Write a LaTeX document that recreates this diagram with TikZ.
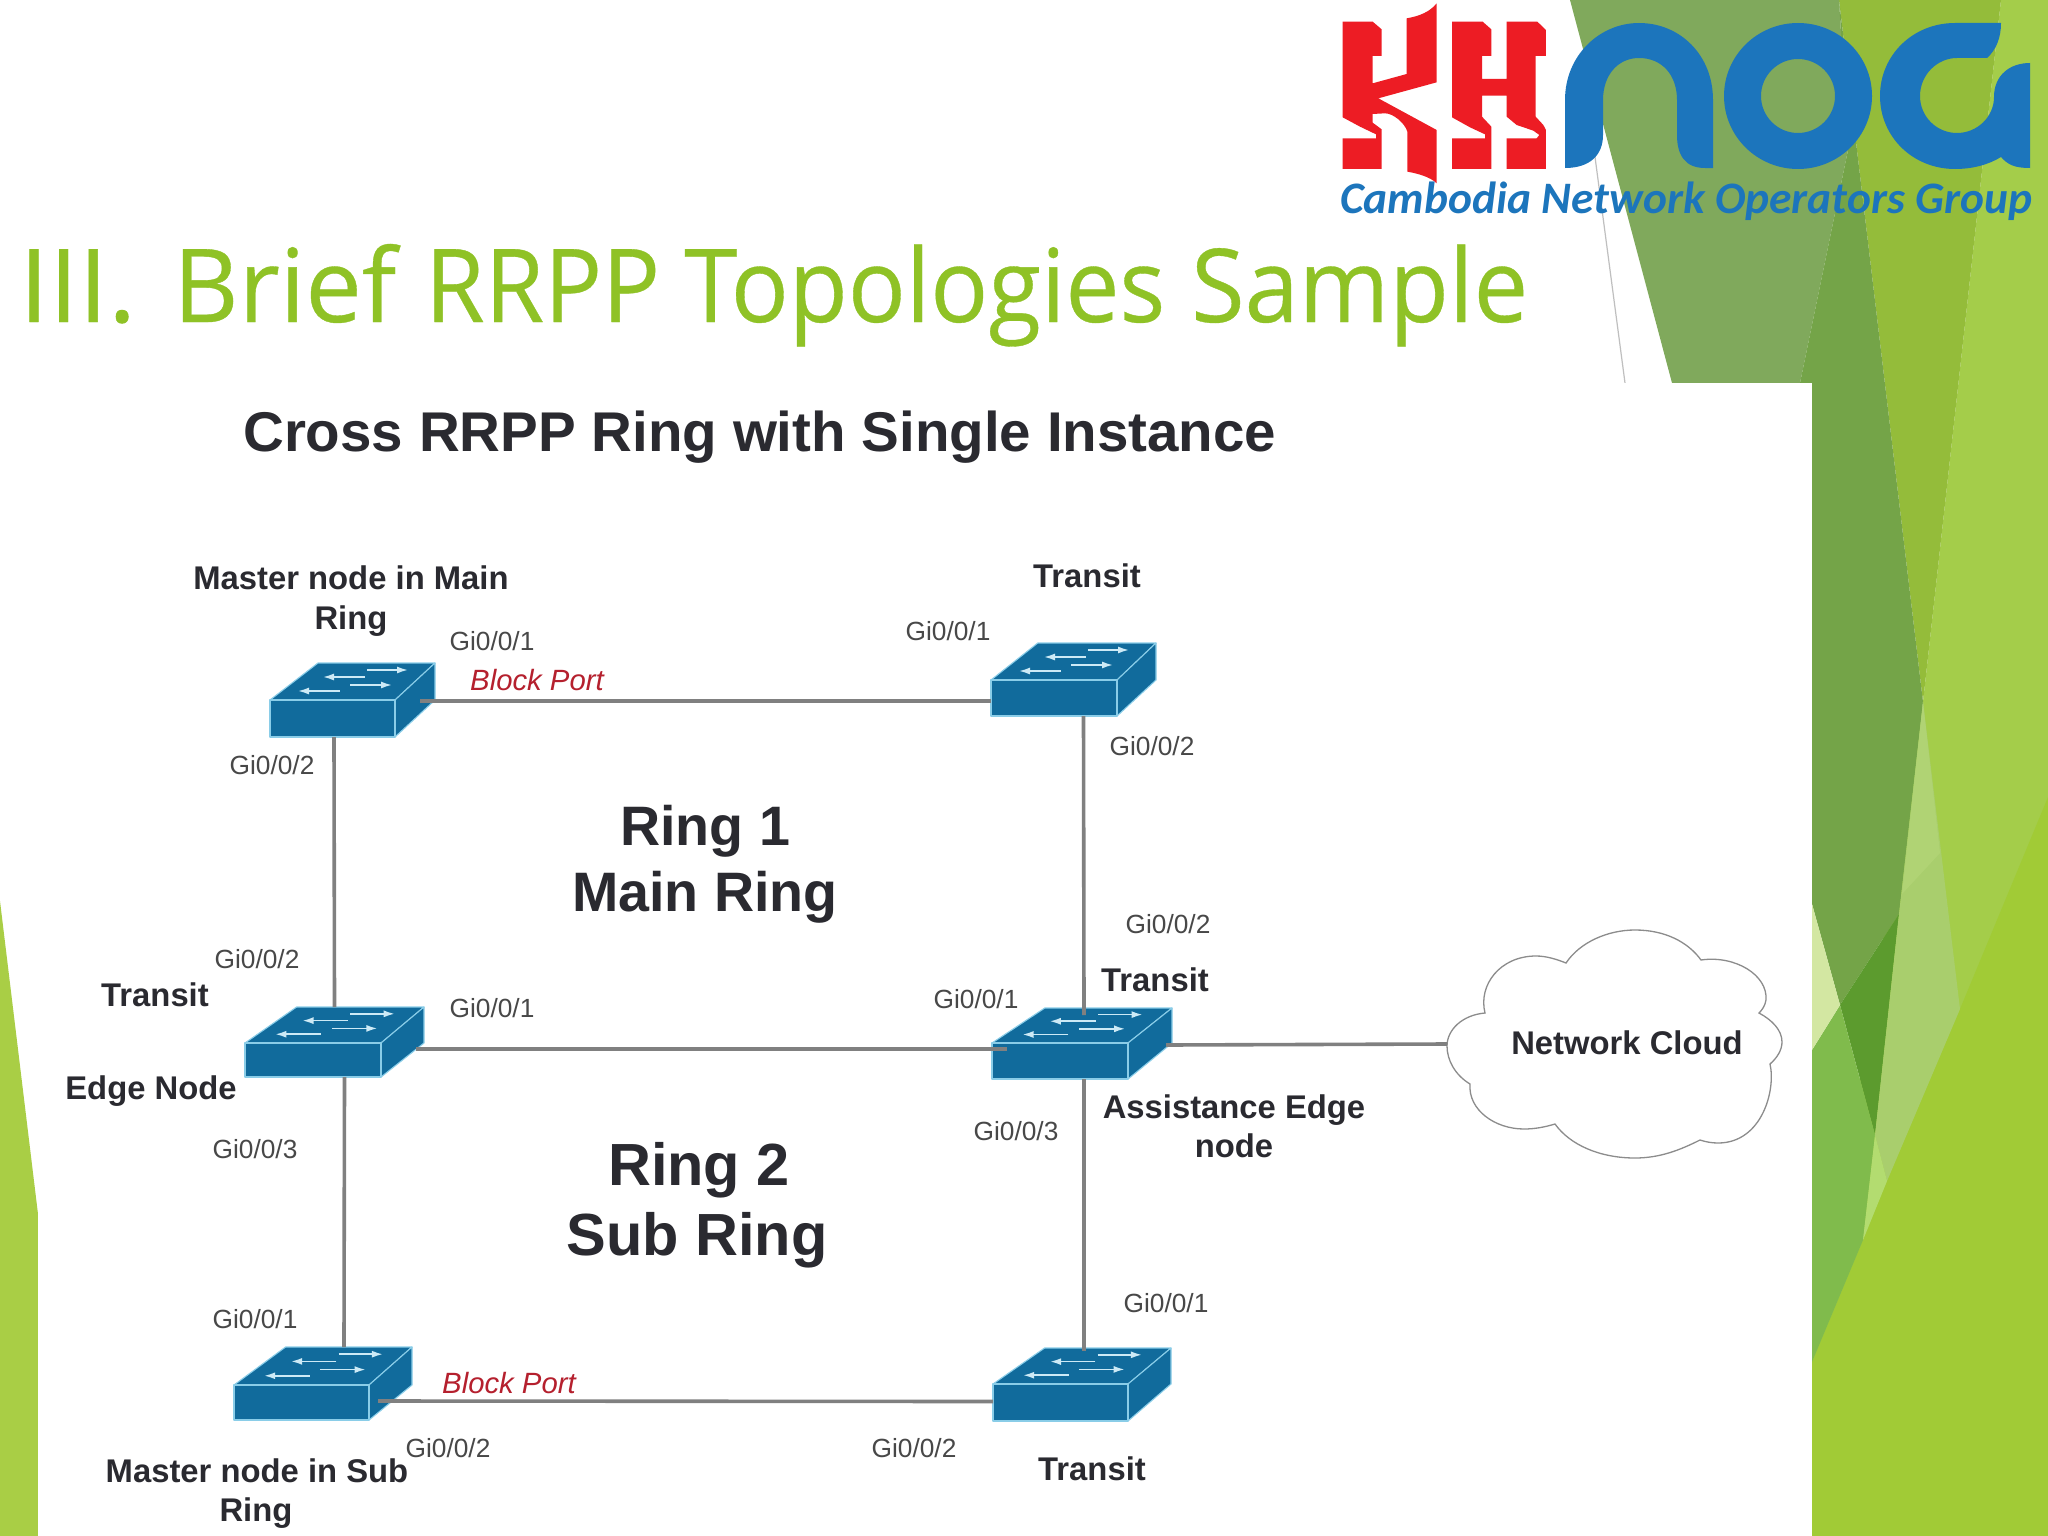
\documentclass[tikz,border=0pt]{standalone}
\usepackage{fontspec}
\usepackage{graphicx}
\setmainfont{Liberation Sans}
\newfontfamily\titlefont[FakeBold=0.35]{Open Sans}
\newfontfamily\logofont{Carlito}
\usetikzlibrary{arrows.meta}
\definecolor{cOlive}{HTML}{80A95C}
\definecolor{cDark}{HTML}{74A448}
\definecolor{cMid}{HTML}{94BC3A}
\definecolor{cLight}{HTML}{A4CD4A}
\definecolor{cLow}{HTML}{A1CB36}
\definecolor{cDeep}{HTML}{5C9B2E}
\definecolor{cSage}{HTML}{A9CE6D}
\definecolor{cSage2}{HTML}{B0D374}
\definecolor{cMedium}{HTML}{80BB4C}
\definecolor{cPale}{HTML}{D3E7A2}
\definecolor{cTip}{HTML}{B3DC70}
\definecolor{cLeft}{HTML}{A9CE45}
\definecolor{cTitle}{HTML}{8FC226}
\definecolor{cRed}{HTML}{ED1C24}
\definecolor{cBlue}{HTML}{1C75BC}
\definecolor{cSw}{HTML}{116B9C}
\definecolor{cSwEdge}{HTML}{8ACDE8}
\definecolor{cArrow}{HTML}{CDEAF6}
\definecolor{cInk}{HTML}{2A2A30}
\definecolor{cPort}{HTML}{484848}
\definecolor{cBlock}{HTML}{B5202E}
\definecolor{cLine}{HTML}{808080}
\tikzset{
  link/.style={draw=cLine,line width=3.6pt},
  swface/.style={fill=cSw,draw=cSwEdge,line width=1.1pt,line join=round},
  swarrow/.style={draw=cArrow,line width=1.6pt,-{Latex[length=11pt,width=7pt]}},
  swbox/.style={inner sep=0pt,outer sep=0pt,draw=none},
  portlab/.style={inner sep=0pt,text=cPort,font=\fontsize{26.3}{30}\selectfont,text height=19pt,text depth=0pt},
  namelab/.style={inner sep=0pt,text=cInk,font=\bfseries\fontsize{32.8}{38}\selectfont,text height=23pt,text depth=0pt},
  ringlab/.style={inner sep=0pt,text=cInk,font=\bfseries\fontsize{55.6}{60}\selectfont,text height=40pt,text depth=0pt},
  ringlabb/.style={inner sep=0pt,text=cInk,font=\bfseries\fontsize{59.5}{64}\selectfont,text height=43pt,text depth=0pt},
  redlab/.style={inner sep=0pt,text=cBlock,font=\itshape\fontsize{29.3}{34}\selectfont,text height=21pt,text depth=0pt},
}
\newcommand\swtch[7]{%
  \pgfmathsetmacro\swBL{#2+1.2*(#6-#4)}%
  \pgfmathsetmacro\swsx{(#6-#2)/165}%
  \pgfmathsetmacro\swsy{(#3-#7)/37}%
  \pgfmathsetmacro\swW{#6-#2}%
  \pgfmathsetmacro\swH{#5-#7}%
  \pgfmathsetmacro\swCx{(#6+#2)/2}%
  \pgfmathsetmacro\swCy{(#5+#7)/2}%
  \path[swface] (#2,#3) -- (\swBL,#7) -- (#6,#7) -- (#4,#3) -- cycle;
  \path[swface] (#4,#3) -- (#6,#7) -- (#6,#3) -- (#4,#5) -- cycle;
  \path[swface] (#2,#3) rectangle (#4,#5);
  \begin{scope}[shift={(#2,#3)},xscale=\swsx,yscale=\swsy]
    \draw[swarrow] (97,-30) -- (138,-30);
    \draw[swarrow] (95,-23) -- (53,-23);
    \draw[swarrow] (80,-15) -- (122,-15);
    \draw[swarrow] (70,-9) -- (28,-9);
  \end{scope}
  \node[swbox,minimum width=\swW pt,minimum height=\swH pt] (#1) at (\swCx,\swCy) {};
}
\newcommand\fitword[2]{\resizebox{#1pt}{\height}{#2}}
\begin{document}
\begin{tikzpicture}[x=1pt,y=-1pt]
\useasboundingbox (0,0) rectangle (2048,1536);
\fill[white] (0,0) rectangle (2048,1536);
% background facets
\fill[cLight] (1923,702) -- (2001,0) -- (2048,0) -- (2048,1536) -- (1812,1536) -- (1812,1362) -- cycle;
\fill[cLow] (2048,797) -- (1960,1009) -- (1887,1181) -- (1863,1240) -- (1812,1362) -- (1812,1536) -- (2048,1536) -- cycle;
\fill[cMid] (1839,0) -- (2001,0) -- (1923,702) -- cycle;
\fill[cOlive] (1570,0) -- (1839,0) -- (1848,150) -- (1800,383) -- (1672,383) -- cycle;
\fill[cDark] (1839,0) -- (1923,702) -- (1899,914) -- (1840,1005) -- (1812,904) -- (1812,383) -- (1800,383) -- (1848,150) -- cycle;
\fill[cDeep] (1899,914) -- (1875,1135) -- (1840,1005) -- cycle;
\fill[cSage] (1923,702) -- (1960,1009) -- (1887,1181) -- (1875,1135) -- (1899,914) -- cycle;
\fill[cSage2] (1923,702) -- (1940,853) -- (1902,894) -- cycle;
\fill[cMedium] (1812,1050) -- (1840,1005) -- (1875,1135) -- (1863,1240) -- (1812,1362) -- cycle;
\fill[cPale] (1812,904) -- (1840,1005) -- (1812,1050) -- cycle;
\fill[cTip] (1875,1135) -- (1887,1181) -- (1863,1240) -- cycle;
\fill[cLeft] (0,901) -- (38,1214) -- (38,1536) -- (0,1536) -- cycle;
\draw[black!25,line width=1.2pt] (1595,157) -- (1625,383);
% panel
\fill[white] (38,383) rectangle (1812,1536);
% logo KH
\begin{scope}[shift={(1330,0)},x=0.3333pt,y=-0.3333pt]
\fill[cRed] (38,65) -- (128,65) -- (155,88) -- (155,168) -- (128,168) -- (128,250) -- (230,222) -- (230,55) .. controls (270,48) and (300,35) .. (320,10) -- (320,247) -- (145,295) -- (320,390) -- (320,550) .. controls (300,530) and (260,520) .. (232,515) -- (232,395) .. controls (225,370) and (190,340) .. (165,340) -- (128,342) -- (128,368) -- (155,388) -- (155,507) -- (38,507) -- (38,415) -- (138,415) -- (138,403) -- (90,380) -- (38,352) -- cycle;
\fill[cRed] (366,65) -- (458,65) -- (484,88) -- (484,168) -- (456,168) -- (456,237) -- (530,237) -- (530,65) -- (622,65) -- (648,90) -- (648,168) -- (617,168) -- (617,350) -- (640,375) -- (648,390) -- (648,507) -- (530,507) -- (530,415) -- (620,415) -- (628,405) -- (610,392) -- (560,375) -- (530,350) -- (530,287) -- (456,287) -- (456,350) -- (484,380) -- (484,507) -- (366,507) -- (366,415) -- (465,415) -- (465,403) -- (420,382) -- (366,352) -- cycle;
\end{scope}
% logo n o a
\fill[cBlue] (1565,168) -- (1565,100) .. controls (1565,55) and (1600,23) .. (1639,23) .. controls (1680,23) and (1713,55) .. (1713,100) -- (1713,168) -- (1705,168) .. controls (1685,168) and (1677,155) .. (1677,135) -- (1677,100) .. controls (1677,75) and (1662,58) .. (1639,58) .. controls (1618,58) and (1603,75) .. (1603,100) -- (1603,135) .. controls (1603,155) and (1590,168) .. (1565,168) -- cycle;
\fill[cBlue,even odd rule] (1798,96) ellipse [x radius=74,y radius=73] (1798,96) ellipse [x radius=37,y radius=37];
\fill[cBlue] (2001,23) -- (1955,23) .. controls (1913,23) and (1880,55) .. (1880,96) .. controls (1880,137) and (1913,169) .. (1955,169) .. controls (1972,169) and (1988,165) .. (2001,157) .. controls (2008,165) and (2015,168) .. (2030,168) -- (2030,63) .. controls (2010,63) and (1994,75) .. (1994,97) .. controls (1994,117) and (1977,133) .. (1957,133) .. controls (1937,133) and (1920,117) .. (1920,96) .. controls (1920,75) and (1937,58) .. (1957,58) -- (1987,58) .. controls (1996,50) and (2001,38) .. (2001,23) -- cycle;
\node[inner sep=0pt,anchor=base west,text=cBlue,font=\logofont\bfseries\itshape\fontsize{45}{50}\selectfont] (logotext) at (1340,214) {\resizebox{692pt}{\height}{Cambodia Network Operators Group}};
% title
\node[inner sep=0pt,anchor=base west,text=cTitle,font=\titlefont\fontsize{102}{110}\selectfont] (slidetitle) at (19,322) {\fitword{117}{III.}\hspace{37pt}\fitword{223}{Brief}\hspace{29pt}\fitword{235}{RRPP}\hspace{24pt}\fitword{481}{Topologies}\hspace{26pt}\fitword{337}{Sample}};
\node[inner sep=0pt,anchor=base west,text=cInk,font=\bfseries\fontsize{56}{60}\selectfont] (paneltitle) at (243,451) {\resizebox{1033pt}{\height}{Cross RRPP Ring with Single Instance}};
% switches
\swtch{s1}{270}{700}{395}{737}{435}{663}
\swtch{s2}{991}{680}{1117}{716}{1156}{643}
\swtch{s3}{245}{1043}{381}{1077}{424}{1007}
\swtch{s4}{992}{1043}{1128}{1079}{1172}{1008}
\swtch{s5}{234}{1385}{369}{1420}{412}{1347}
\swtch{s6}{993}{1384}{1128}{1421}{1171}{1348}
% cloud
\node[swbox,minimum width=335pt,minimum height=228pt] (cloud) at (1614.5,1044) {};
\draw[black!45,line width=1.3pt,fill=white] (1485,1013) .. controls (1478,985) and (1500,956) .. (1536,956) .. controls (1546,956) and (1556,959) .. (1566,963) .. controls (1580,942) and (1608,930) .. (1635,930) .. controls (1665,930) and (1688,942) .. (1701,960) .. controls (1735,955) and (1768,975) .. (1766,1000) .. controls (1765,1006) and (1762,1010) .. (1759,1013) .. controls (1772,1020) and (1782,1030) .. (1782,1042) .. controls (1782,1050) and (1777,1058) .. (1770,1064) .. controls (1776,1090) and (1762,1143) .. (1718,1143) .. controls (1712,1143) and (1706,1142) .. (1700,1140) .. controls (1680,1150) and (1660,1158) .. (1635,1158) .. controls (1600,1158) and (1570,1145) .. (1555,1124) .. controls (1545,1127) and (1535,1129) .. (1524,1129) .. controls (1495,1129) and (1468,1110) .. (1470,1084) .. controls (1455,1075) and (1447,1060) .. (1447,1046) .. controls (1447,1030) and (1462,1015) .. (1485,1013) -- cycle;
% connectors
\draw[link] ([shift={(-15,1)}]s1.east) -- ([shift={(0,21.5)}]s2.west);
\draw[link] ([shift={(-18.5,0)}]s1.south) -- (s3.north);
\draw[link] ([shift={(10,0)}]s2.south) -- ([shift={(2,7)}]s4.north);
\draw[link] ([shift={(-8,7)}]s3.east) -- ([shift={(15,5.5)}]s4.west);
\draw[link] ([shift={(10,0)}]s3.south) -- ([shift={(21,0)}]s5.north);
\draw[link] ([shift={(2,0)}]s4.south) -- ([shift={(2,3)}]s6.north);
\draw[link] ([shift={(-6,1.5)}]s4.east) -- (cloud.west);
\draw[link] ([shift={(-34,17.5)}]s5.east) -- ([shift={(0,17)}]s6.west);
% labels
\node[portlab] (p1) at (492,641) {Gi0/0/1};
\node[redlab] (b1) at (537,680) {Block Port};
\node[portlab] (p2) at (948,631) {Gi0/0/1};
\node[portlab] (p3) at (272,765) {Gi0/0/2};
\node[portlab] (p4) at (1152,746) {Gi0/0/2};
\node[portlab] (p5) at (257,959) {Gi0/0/2};
\node[portlab] (p6) at (492,1008) {Gi0/0/1};
\node[portlab] (p7) at (976,999) {Gi0/0/1};
\node[portlab] (p8) at (1168,924) {Gi0/0/2};
\node[portlab] (p9) at (255,1149) {Gi0/0/3};
\node[portlab] (p10) at (1016,1131) {Gi0/0/3};
\node[portlab] (p11) at (255,1319) {Gi0/0/1};
\node[portlab] (p12) at (1166,1303) {Gi0/0/1};
\node[portlab] (p13) at (448,1448) {Gi0/0/2};
\node[portlab] (p14) at (914,1448) {Gi0/0/2};
\node[redlab] (b2) at (509,1383) {Block Port};
\node[namelab] (n1) at (351,578) {Master node in Main};
\node[namelab] (n1b) at (351,618) {Ring};
\node[namelab] (n2) at (1087,576) {Transit};
\node[namelab] (n3) at (155,995) {Transit};
\node[namelab] (n4) at (1155,980) {Transit};
\node[namelab] (n5) at (151,1088) {Edge Node};
\node[namelab] (n6) at (1234,1107) {Assistance Edge};
\node[namelab] (n6b) at (1234,1146) {node};
\node[namelab] (n7) at (257,1471) {Master node in Sub};
\node[namelab] (n7b) at (256,1510) {Ring};
\node[namelab] (n8) at (1092,1469) {Transit};
\node[namelab] (cl) at (1627,1043) {Network Cloud};
\node[ringlab] (r1) at (705,825) {Ring 1};
\node[ringlab] (r1b) at (705,891) {Main Ring};
\node[ringlabb] (r2) at (699,1164) {Ring 2};
\node[ringlabb] (r2b) at (697,1234) {Sub Ring};
\end{tikzpicture}
\end{document}
